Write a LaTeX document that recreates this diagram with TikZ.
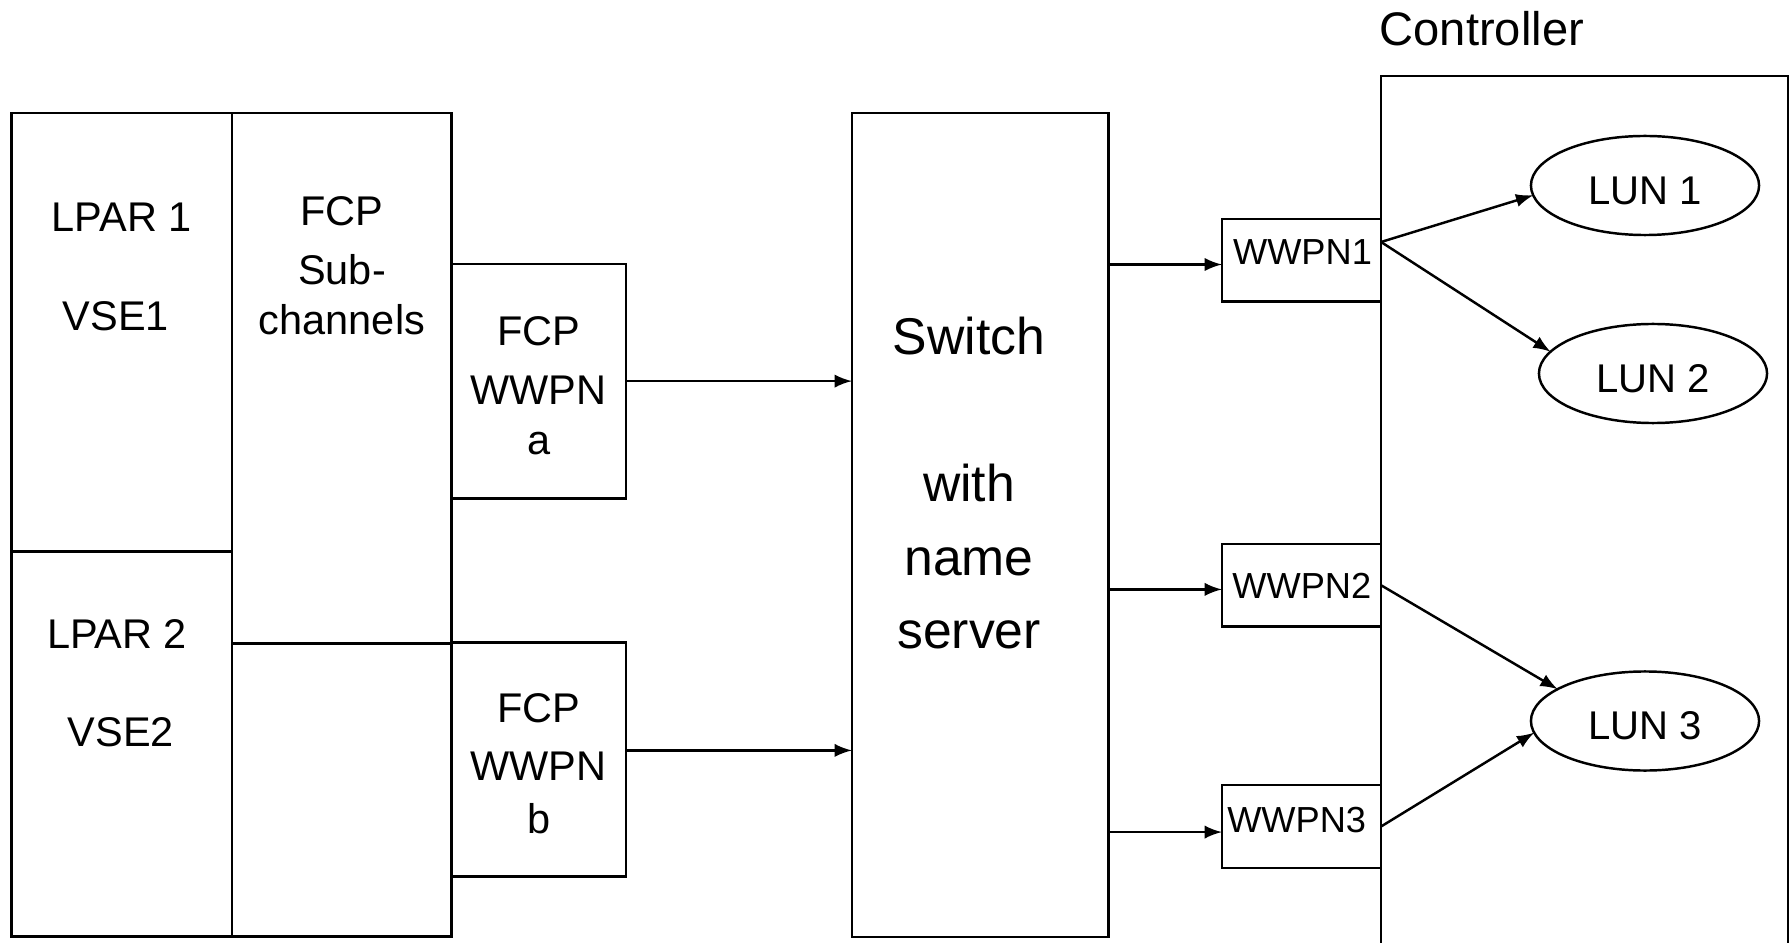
\documentclass[tikz,border=0pt]{standalone}
\usepackage{fontspec}
\setmainfont{Liberation Sans}
\usetikzlibrary{arrows,shapes.geometric}

\begin{document}
\begin{tikzpicture}[>=latex, x=0.01cm, y=-0.01cm,
  box/.style={rectangle, draw, line width=0.75pt,
    inner sep=0pt, outer sep=0pt},
  lun/.style={ellipse, draw, line width=0.7pt,
    inner sep=0pt, outer sep=0pt,
    minimum width=2.28cm, minimum height=0.99cm,
    text height=0.37cm, text depth=0pt,
    font=\fontsize{11.4}{13}\selectfont},
  txt/.style={anchor=base, inner sep=0pt, font=\fontsize{11.8}{14}\selectfont},
  big/.style={txt, font=\fontsize{14.7}{17}\selectfont},
  small/.style={txt, font=\fontsize{10.3}{12}\selectfont},
  link/.style={->, line width=0.7pt}]
  %
  \useasboundingbox (0,0) rectangle (1791,943);

  % host side
  \node[box, minimum width=2.205cm, minimum height=4.386cm] (lpar1) at (121.65,332.4) {};
  \node[box, minimum width=2.205cm, minimum height=3.849cm] (lpar2) at (121.65,744.15) {};
  \node[box, minimum width=2.193cm, minimum height=5.30cm]  (subch) at (341.55,378.1) {};
  \node[box, minimum width=2.193cm, minimum height=2.935cm] (subchb) at (341.55,789.85) {};
  \node[box, minimum width=1.748cm, minimum height=2.342cm] (fcpa) at (538.6,381.1) {};
  \node[box, minimum width=1.748cm, minimum height=2.336cm] (fcpb) at (538.6,759.6) {};

  \node[txt] (lp1) at (121.65,232) {LPAR 1};
  \node[txt] (vse1) at (116,331) {VSE1};
  \node[txt] (lp2) at (117,648) {LPAR 2};
  \node[txt] (vse2) at (121,746) {VSE2};
  \node[txt] (sc1) at (342,226) {FCP};
  \node[txt] (sc2) at (342,285) {Sub-};
  \node[txt] (sc3) at (342,335) {channels};
  \node[txt] (fa1) at (538.6,346) {FCP};
  \node[txt] (fa2) at (538.6,404.5) {WWPN};
  \node[txt] (fa3) at (538.6,454.5) {a};
  \node[txt] (fb1) at (538.6,722.6) {FCP};
  \node[txt] (fb2) at (538.6,780) {WWPN};
  \node[txt] (fb3) at (538.6,833) {b};

  % switch
  \node[box, minimum width=2.565cm, minimum height=8.235cm] (switch) at (980.25,524.85) {};
  \node[big] (sw1) at (969,355) {Switch};
  \node[big] (sw2) at (969,501.7) {with};
  \node[big] (sw3) at (969,575) {name};
  \node[big] (sw4) at (969,648.3) {server};

  % controller
  \draw[line width=0.75pt] (1381,943) |- (1788,76) -- (1788,943);
  \node[txt, anchor=base west, font=\fontsize{13.4}{16}\selectfont] (ctrl) at (1379,46) {Controller};

  \node[box, minimum width=1.59cm, minimum height=0.827cm] (wwpn1) at (1301.5,260.35) {};
  \node[box, minimum width=1.59cm, minimum height=0.827cm] (wwpn2) at (1301.5,585.25) {};
  \node[box, minimum width=1.59cm, minimum height=0.827cm] (wwpn3) at (1301.5,826.5) {};
  \node[small] (w1) at (1302.5,265) {WWPN1};
  \node[small] (w2) at (1301.8,598) {WWPN2};
  \node[small] (w3) at (1296.7,832) {WWPN3};

  \node[lun] (lun1) at (1645,185.5) {LUN 1};
  \node[lun] (lun2) at (1653,373.5) {LUN 2};
  \node[lun] (lun3) at (1645,721) {LUN 3};

  \draw[link] (fcpa.east) -- (fcpa.east -| switch.west);
  \draw[link] (fcpb.6) -- (fcpb.6 -| switch.west);
  \draw[link] (switch.east |- wwpn1.183) -- (wwpn1.183);
  \draw[link] (switch.east |- wwpn2.183) -- (wwpn2.183);
  \draw[link] (switch.east |- wwpn3.184) -- (wwpn3.184);

  \draw[link] (wwpn1.13) -- (lun1.185);
  \draw[link] (wwpn1.13) -- (lun2.168);
  \draw[link] (wwpn2.east) -- (lun3.160);
  \draw[link] (wwpn3.east) -- (lun3.186);

\end{tikzpicture}
\end{document}
